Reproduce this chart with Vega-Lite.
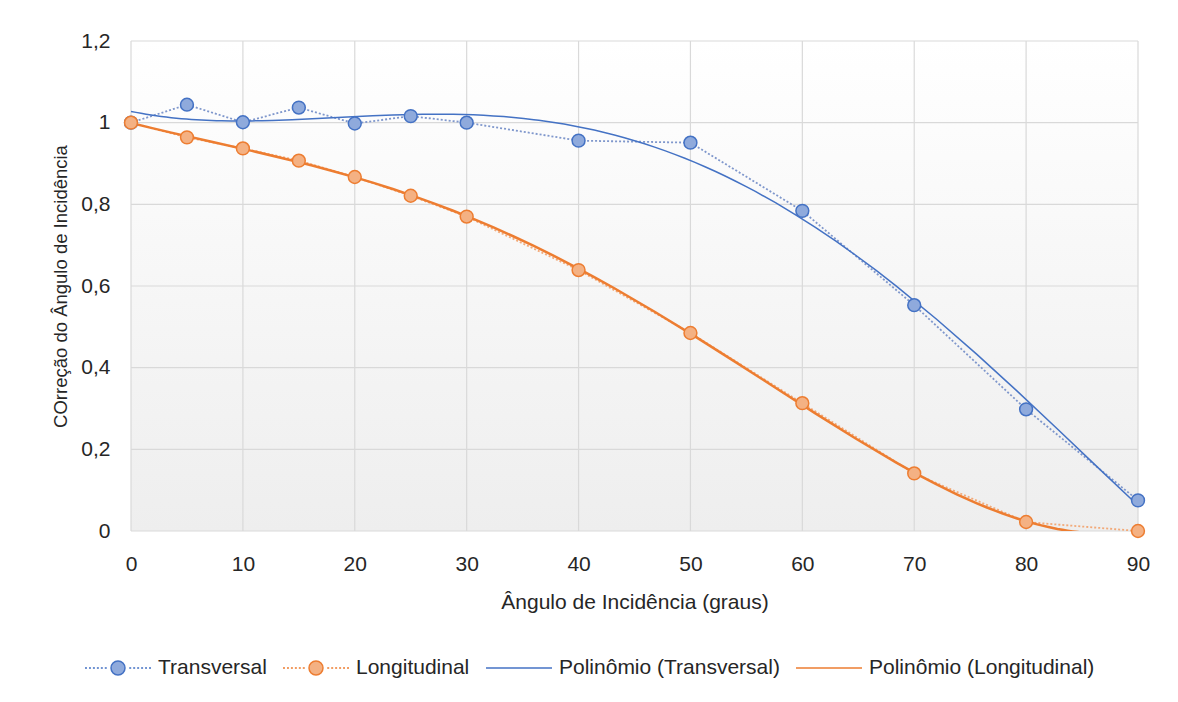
{
  "$schema": "https://vega.github.io/schema/vega-lite/v6.json",
  "width": 1007,
  "height": 490,
  "autosize": {"type": "none"},
  "padding": {"left": 131, "top": 41, "right": 40, "bottom": 171},
  "background": "#ffffff",
  "config": {
    "font": "Liberation Sans",
    "view": {"stroke": null},
    "axisX": {"grid": false, "domain": false, "ticks": false, "labelFlush": false, "labelFontSize": 21, "labelPadding": 22, "titleFontSize": 21, "titleFontWeight": "normal", "titlePadding": 17, "labelColor": "#262626", "titleColor": "#262626"},
    "axisY": {"grid": false, "domain": false, "ticks": false, "labelFlush": false, "labelFontSize": 21, "labelPadding": 21, "titleFontSize": 18.5, "titleFontWeight": "normal", "titlePadding": 10, "labelColor": "#262626", "titleColor": "#262626"}
  },
  "datasets": {
    "obs": [
      {"angle": 0, "value": 1.0, "series": "Transversal"},
      {"angle": 5, "value": 1.044, "series": "Transversal"},
      {"angle": 10, "value": 1.001, "series": "Transversal"},
      {"angle": 15, "value": 1.037, "series": "Transversal"},
      {"angle": 20, "value": 0.998, "series": "Transversal"},
      {"angle": 25, "value": 1.016, "series": "Transversal"},
      {"angle": 30, "value": 1.0, "series": "Transversal"},
      {"angle": 40, "value": 0.956, "series": "Transversal"},
      {"angle": 50, "value": 0.951, "series": "Transversal"},
      {"angle": 60, "value": 0.784, "series": "Transversal"},
      {"angle": 70, "value": 0.553, "series": "Transversal"},
      {"angle": 80, "value": 0.298, "series": "Transversal"},
      {"angle": 90, "value": 0.075, "series": "Transversal"},
      {"angle": 0, "value": 1.0, "series": "Longitudinal"},
      {"angle": 5, "value": 0.964, "series": "Longitudinal"},
      {"angle": 10, "value": 0.937, "series": "Longitudinal"},
      {"angle": 15, "value": 0.907, "series": "Longitudinal"},
      {"angle": 20, "value": 0.867, "series": "Longitudinal"},
      {"angle": 25, "value": 0.821, "series": "Longitudinal"},
      {"angle": 30, "value": 0.77, "series": "Longitudinal"},
      {"angle": 40, "value": 0.639, "series": "Longitudinal"},
      {"angle": 50, "value": 0.485, "series": "Longitudinal"},
      {"angle": 60, "value": 0.313, "series": "Longitudinal"},
      {"angle": 70, "value": 0.141, "series": "Longitudinal"},
      {"angle": 80, "value": 0.022, "series": "Longitudinal"},
      {"angle": 90, "value": 0.0, "series": "Longitudinal"}
    ],
    "gx": [{"g": 0}, {"g": 10}, {"g": 20}, {"g": 30}, {"g": 40}, {"g": 50}, {"g": 60}, {"g": 70}, {"g": 80}, {"g": 90}],
    "gy": [{"g": 0}, {"g": 0.2}, {"g": 0.4}, {"g": 0.6}, {"g": 0.8}, {"g": 1}, {"g": 1.2}],
    "bg": [{"id": 1}]
  },
  "layer": [
    {
      "data": {"name": "bg"},
      "mark": {"type": "rect", "fill": {"gradient": "linear", "x1": 0, "y1": 0, "x2": 0, "y2": 1, "stops": [{"offset": 0, "color": "#ffffff"}, {"offset": 1, "color": "#eeeeee"}]}},
      "encoding": {
        "x": {"datum": 0, "type": "quantitative", "scale": {"domain": [0, 90], "nice": false, "zero": false}, "title": "Ângulo de Incidência (graus)", "axis": {"values": [0, 10, 20, 30, 40, 50, 60, 70, 80, 90]}},
        "x2": {"datum": 90},
        "y": {"datum": 0, "type": "quantitative", "scale": {"domain": [0, 1.2], "nice": false}, "title": "COrreção do Ângulo de Incidência", "axis": {"values": [0, 0.2, 0.4, 0.6, 0.8, 1, 1.2], "labelExpr": "replace(toString(datum.value), '.', ',')"}},
        "y2": {"datum": 1.2}
      }
    },
    {
      "data": {"name": "gx"},
      "mark": {"type": "rule", "color": "#d9d9d9", "strokeWidth": 1.2},
      "encoding": {
        "x": {"field": "g", "type": "quantitative", "title": "Ângulo de Incidência (graus)"}
      }
    },
    {
      "data": {"name": "gy"},
      "mark": {"type": "rule", "color": "#d9d9d9", "strokeWidth": 1.2},
      "encoding": {
        "y": {"field": "g", "type": "quantitative", "title": "COrreção do Ângulo de Incidência"}
      }
    },
    {
      "data": {"name": "obs"},
      "transform": [{"filter": "datum.series === 'Transversal'"}],
      "mark": {"type": "line", "stroke": "#7f97cc", "strokeWidth": 1.8, "strokeDash": [2, 2]},
      "encoding": {
        "x": {"field": "angle", "type": "quantitative", "title": "Ângulo de Incidência (graus)"},
        "y": {"field": "value", "type": "quantitative", "title": "COrreção do Ângulo de Incidência"}
      }
    },
    {
      "data": {"name": "obs"},
      "transform": [{"filter": "datum.series === 'Longitudinal'"}],
      "mark": {"type": "line", "stroke": "#f2a978", "strokeWidth": 1.8, "strokeDash": [2, 2]},
      "encoding": {
        "x": {"field": "angle", "type": "quantitative", "title": "Ângulo de Incidência (graus)"},
        "y": {"field": "value", "type": "quantitative", "title": "COrreção do Ângulo de Incidência"}
      }
    },
    {
      "data": {"name": "obs"},
      "transform": [
        {"filter": "datum.series === 'Transversal'"},
        {"regression": "value", "on": "angle", "groupby": ["series"], "method": "poly", "order": 4, "extent": [0, 90]}
      ],
      "mark": {"type": "line", "stroke": "#4472c4", "strokeWidth": 1.5, "clip": true},
      "encoding": {
        "x": {"field": "angle", "type": "quantitative", "title": "Ângulo de Incidência (graus)"},
        "y": {"field": "value", "type": "quantitative", "title": "COrreção do Ângulo de Incidência"}
      }
    },
    {
      "data": {"name": "obs"},
      "transform": [
        {"filter": "datum.series === 'Longitudinal'"},
        {"regression": "value", "on": "angle", "groupby": ["series"], "method": "poly", "order": 4, "extent": [0, 90]}
      ],
      "mark": {"type": "line", "stroke": "#ed7d31", "strokeWidth": 2.5, "clip": true},
      "encoding": {
        "x": {"field": "angle", "type": "quantitative", "title": "Ângulo de Incidência (graus)"},
        "y": {"field": "value", "type": "quantitative", "title": "COrreção do Ângulo de Incidência"}
      }
    },
    {
      "data": {"name": "obs"},
      "mark": {"type": "circle", "size": 165, "strokeWidth": 1.5, "opacity": 1},
      "encoding": {
        "x": {"field": "angle", "type": "quantitative", "title": "Ângulo de Incidência (graus)"},
        "y": {"field": "value", "type": "quantitative", "title": "COrreção do Ângulo de Incidência"},
        "fill": {"field": "series", "type": "nominal", "scale": {"domain": ["Transversal", "Longitudinal"], "range": ["#8faadc", "#f4b183"]}, "legend": null},
        "stroke": {
          "field": "series", "type": "nominal",
          "scale": {"domain": ["Transversal", "Longitudinal", "Polinômio (Transversal)", "Polinômio (Longitudinal)"], "range": ["#4472c4", "#ed7d31", "#4472c4", "#ed7d31"]},
          "legend": {
            "title": null,
            "orient": "none",
            "legendX": -47,
            "legendY": 593,
            "direction": "horizontal",
            "symbolSize": 4356,
            "symbolStrokeWidth": 1.5,
            "symbolOpacity": 1,
            "symbolType": {"expr": "(datum.value === 'Transversal' || datum.value === 'Longitudinal') ? 'M-1,0H-0.94M-0.88,0H-0.82M-0.76,0H-0.7M-0.64,0H-0.58M-0.52,0H-0.46M-0.4,0H-0.34M0.34,0H0.4M0.46,0H0.52M0.58,0H0.64M0.7,0H0.76M0.82,0H0.88M0.94,0H1M-0.212,0A0.212,0.212 0 1,1 0.212,0A0.212,0.212 0 1,1 -0.212,0Z' : 'M-1,0H1'"},
            "symbolFillColor": {"expr": "datum.value === 'Transversal' ? '#8faadc' : (datum.value === 'Longitudinal' ? '#f4b183' : 'transparent')"},
            "labelFontSize": 21,
            "labelLimit": 400,
            "labelOffset": 6,
            "columnPadding": 13,
            "labelColor": "#262626"
          }
        }
      }
    }
  ]
}
